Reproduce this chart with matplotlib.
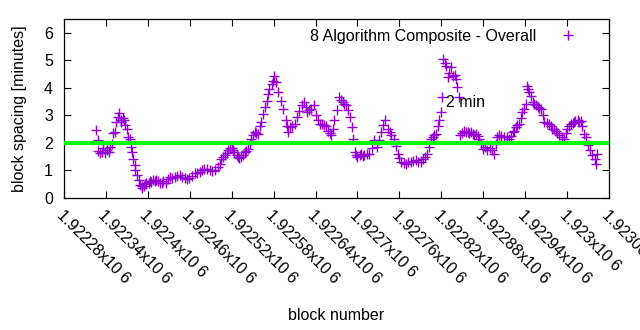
import matplotlib
matplotlib.use("Agg")
import matplotlib.pyplot as plt

plt.rcParams['font.family'] = ['Liberation Sans', 'DejaVu Sans']

blocks = [
    1922326, 1922328, 1922329, 1922331, 1922334, 1922336, 1922339, 1922341, 1922344, 1922346,
    1922348, 1922350, 1922353, 1922355, 1922357, 1922359, 1922361, 1922362, 1922364, 1922366,
    1922368, 1922370, 1922372, 1922374, 1922376, 1922378, 1922379, 1922381, 1922382, 1922385,
    1922387, 1922389, 1922391, 1922392, 1922394, 1922396, 1922398, 1922401, 1922403, 1922405,
    1922408, 1922410, 1922412, 1922415, 1922417, 1922420, 1922422, 1922426, 1922429, 1922431,
    1922435, 1922439, 1922442, 1922446, 1922449, 1922453, 1922456, 1922459, 1922463, 1922467,
    1922471, 1922474, 1922478, 1922481, 1922485, 1922489, 1922492, 1922496, 1922500, 1922503,
    1922505, 1922508, 1922510, 1922513, 1922515, 1922517, 1922520, 1922522, 1922524, 1922527,
    1922529, 1922531, 1922534, 1922536, 1922539, 1922541, 1922543, 1922546, 1922548, 1922551,
    1922553, 1922555, 1922558, 1922560, 1922562, 1922565, 1922567, 1922570, 1922572, 1922574,
    1922577, 1922579, 1922581, 1922584, 1922586, 1922590, 1922593, 1922597, 1922599, 1922601,
    1922604, 1922607, 1922610, 1922614, 1922617, 1922620, 1922623, 1922626, 1922628, 1922631,
    1922634, 1922638, 1922641, 1922644, 1922646, 1922649, 1922652, 1922655, 1922658, 1922660,
    1922662, 1922665, 1922667, 1922671, 1922674, 1922676, 1922679, 1922681, 1922684, 1922686,
    1922689, 1922692, 1922693, 1922696, 1922698, 1922700, 1922703, 1922705, 1922708, 1922710,
    1922714, 1922717, 1922721, 1922724, 1922728, 1922731, 1922734, 1922736, 1922740, 1922743,
    1922746, 1922748, 1922752, 1922755, 1922758, 1922760, 1922762, 1922766, 1922770, 1922773,
    1922777, 1922780, 1922784, 1922787, 1922791, 1922794, 1922797, 1922800, 1922802, 1922805,
    1922808, 1922810, 1922812, 1922815, 1922817, 1922820, 1922821, 1922823, 1922825, 1922827,
    1922829, 1922831, 1922834, 1922836, 1922839, 1922841, 1922843, 1922845, 1922847, 1922850,
    1922853, 1922855, 1922858, 1922860, 1922862, 1922865, 1922867, 1922870, 1922872, 1922874,
    1922877, 1922880, 1922883, 1922886, 1922889, 1922893, 1922896, 1922898, 1922900, 1922903,
    1922906, 1922910, 1922914, 1922917, 1922920, 1922922, 1922924, 1922927, 1922929, 1922931,
    1922934, 1922936, 1922939, 1922941, 1922943, 1922944, 1922946, 1922949, 1922951, 1922953,
    1922955, 1922958, 1922960, 1922962, 1922965, 1922967, 1922971, 1922974, 1922977, 1922979,
    1922981, 1922984, 1922986, 1922989, 1922992, 1922996, 1922998, 1923000, 1923003, 1923005,
    1923008, 1923010, 1923012, 1923015, 1923017, 1923020, 1923022, 1923024, 1923027, 1923030,
    1923033, 1923036, 1923040, 1923042, 1923043,
]

spacing = [
    2.48, 2.09, 1.70, 1.62, 1.67, 1.80, 1.62, 1.73, 1.66, 1.85,
    1.95, 2.36, 2.40, 2.75, 2.95, 3.08, 2.85, 2.75, 2.90, 2.82,
    2.65, 2.52, 2.20, 2.16, 1.85, 1.67, 1.40, 1.20, 1.01, 0.83,
    0.65, 0.47, 0.42, 0.35, 0.45, 0.50, 0.53, 0.56, 0.60, 0.59,
    0.65, 0.62, 0.67, 0.62, 0.55, 0.53, 0.60, 0.55, 0.68, 0.75,
    0.72, 0.75, 0.80, 0.83, 0.76, 0.71, 0.68, 0.71, 0.80, 0.89,
    0.92, 0.95, 1.00, 1.07, 1.05, 1.01, 0.98, 1.01, 1.13, 1.25,
    1.41, 1.50, 1.55, 1.65, 1.73, 1.80, 1.83, 1.75, 1.67, 1.55,
    1.49, 1.45, 1.49, 1.55, 1.67, 1.72, 1.79, 1.95, 2.16, 2.30,
    2.39, 2.35, 2.31, 2.63, 2.75, 3.06, 3.30, 3.54, 3.78, 3.96,
    4.14, 4.26, 4.44, 4.20, 3.84, 3.54, 3.24, 2.85, 2.60, 2.39,
    2.57, 2.62, 2.70, 2.94, 3.15, 3.36, 3.48, 3.30, 3.12, 3.18,
    3.25, 3.38, 3.00, 2.85, 2.70, 2.68, 2.66, 2.60, 2.45, 2.35,
    2.27, 2.50, 2.82, 3.18, 3.66, 3.55, 3.48, 3.40, 3.36, 3.20,
    2.94, 2.57, 2.16, 1.67, 1.55, 1.49, 1.55, 1.61, 1.52, 1.55,
    1.58, 1.61, 1.80, 2.09, 1.85, 2.10, 2.39, 2.65, 2.82, 2.52,
    2.40, 2.27, 2.16, 1.90, 1.61, 1.45, 1.31, 1.28, 1.25, 1.30,
    1.31, 1.35, 1.37, 1.30, 1.31, 1.40, 1.50, 1.61, 1.85, 2.16,
    2.20, 2.27, 2.34, 2.63, 2.82, 3.12, 3.66, 5.04, 4.90, 4.80,
    4.38, 4.55, 4.74, 4.44, 4.45, 4.32, 4.02, 3.66, 2.27, 2.35,
    2.45, 2.40, 2.39, 2.35, 2.38, 2.34, 2.30, 2.34, 2.25, 2.16,
    1.95, 1.79, 1.85, 1.73, 1.80, 1.73, 1.61, 1.95, 2.20, 2.27,
    2.25, 2.21, 2.20, 2.16, 2.25, 2.39, 2.45, 2.57, 2.65, 2.70,
    2.90, 3.12, 3.25, 3.42, 4.08, 3.95, 3.84, 3.72, 3.50, 3.42,
    3.38, 3.30, 3.28, 3.24, 3.00, 2.75, 2.72, 2.70, 2.60, 2.52,
    2.50, 2.45, 2.35, 2.27, 2.20, 2.16, 2.35, 2.52, 2.62, 2.70,
    2.72, 2.75, 2.80, 2.82, 2.75, 2.79, 2.60, 2.34, 2.21, 1.91,
    1.73, 1.55, 1.43, 1.25, 1.61,
]

x_ticks = [1922280 + 60 * i for i in range(14)]
x_tick_labels = ["1.92228x10 6", "1.92234x10 6", "1.9224x10 6", "1.92246x10 6",
                 "1.92252x10 6", "1.92258x10 6", "1.92264x10 6", "1.9227x10 6",
                 "1.92276x10 6", "1.92282x10 6", "1.92288x10 6", "1.92294x10 6",
                 "1.923x10 6", "1.92306x10 6"]
y_ticks = [0, 1, 2, 3, 4, 5, 6]
target = 2
series_name = "8 Algorithm Composite - Overall"
annotation = "2 min"
annotation_xy = (1922826, 3.47)

FS = 11.5

fig = plt.figure(figsize=(6.4, 3.3), dpi=100)
ax = fig.add_axes([0.1, 0.4, 0.8516, 0.5424])

ax.plot(blocks, spacing, linestyle='none', marker='+', markersize=7,
        markeredgewidth=1.0, color='#9400D3', label=series_name, zorder=2)
ax.axhline(target, color='#00FF00', linewidth=3.0, zorder=3)
ax.text(annotation_xy[0], annotation_xy[1], annotation, fontsize=FS,
        ha='left', va='center', zorder=4)

ax.set_xlim(1922280, 1923060)
ax.set_ylim(0, 6.5)
ax.set_xticks(x_ticks)
ax.set_xticklabels(x_tick_labels, rotation=-45, ha='left', va='top',
                   rotation_mode='anchor', fontsize=FS)
ax.set_yticks(y_ticks)
ax.set_yticklabels([str(v) for v in y_ticks], fontsize=FS)
ax.tick_params(direction='in', length=5, width=0.8, top=True, right=True,
               pad=8)
ax.tick_params(axis='x', pad=7)
for s in ax.spines.values():
    s.set_linewidth(0.9)

ax.set_xlabel("block number", fontsize=FS, labelpad=15)
ax.set_ylabel("block spacing [minutes]", fontsize=FS, labelpad=12)

leg = ax.legend(loc='upper right', frameon=False, markerfirst=False,
                fontsize=FS, handlelength=2.0, handletextpad=1.0,
                borderaxespad=0.2, bbox_to_anchor=(0.972, 1.0))

fig.savefig("out.png", dpi=100)
